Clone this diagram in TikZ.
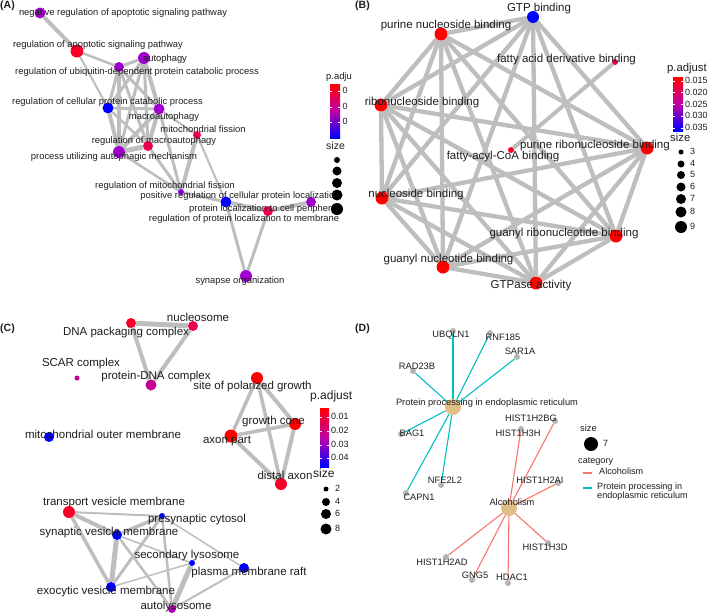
\documentclass[tikz,border=0pt]{standalone}
\usepackage{fontspec}
\setmainfont{Liberation Sans}
\usetikzlibrary{backgrounds}
\definecolor{egray}{RGB}{190,190,190}
\definecolor{txt}{RGB}{30,30,30}
\definecolor{cRed}{RGB}{255,0,0}
\definecolor{cRedA}{RGB}{248,0,40}
\definecolor{cCrim}{RGB}{235,0,75}
\definecolor{cMag}{RGB}{200,0,145}
\definecolor{cPurM}{RGB}{170,0,175}
\definecolor{cPur}{RGB}{160,0,205}
\definecolor{cVio}{RGB}{125,0,230}
\definecolor{cBlue}{RGB}{0,0,255}
\definecolor{cTan}{RGB}{226,190,135}
\definecolor{cGene}{RGB}{180,180,180}
\definecolor{cCyan}{RGB}{0,191,196}
\definecolor{cSalm}{RGB}{248,118,109}
\definecolor{cMid}{RGB}{190,0,165}
\newcommand\mkdot[5]{\node[gn,minimum size=#4pt,fill=#5] (#1) at (#2,#3) {};}
\begin{document}
\begin{tikzpicture}[x=1pt,y=-1pt,
  gn/.style={circle,inner sep=0pt,draw=none},
  lbase/.style={inner sep=0pt,text=txt,text height=0.72em,text depth=0.2em},
  la/.style={lbase,font=\fontsize{9.4}{10}\selectfont},
  lb/.style={lbase,font=\fontsize{11.5}{12}\selectfont},
  ld/.style={lbase,font=\fontsize{9.3}{10}\selectfont},
  ltit/.style={lbase,anchor=west,font=\fontsize{#1}{12}\selectfont},
  lkey/.style={lbase,anchor=west,font=\fontsize{9}{10}\selectfont},
  edg/.style={draw=egray,line width=#1},
  pnl/.style={inner sep=0pt,anchor=west,text=txt,font=\fontsize{10.5}{11}\bfseries\selectfont},
  cbar/.style={top color=cRed,bottom color=cBlue,middle color=cMid,draw=none},
  tick/.style={draw=white,line width=0.6pt},
  keydot/.style={circle,inner sep=0pt,fill=black,draw=none},
  dcyan/.style={draw=cCyan,line width=1.1pt},
  dsalm/.style={draw=cSalm,line width=1.1pt}
]
\begin{pgfonlayer}{background}
\fill[white] (0,0) rectangle (709,614);
\end{pgfonlayer}
\useasboundingbox (0,0) rectangle (709,614);

% ---------------- panel labels
\node[pnl] (pA) at (0,6) {(A)};
\node[pnl] (pB) at (355,6) {(B)};
\node[pnl] (pC) at (0,329) {(C)};
\node[pnl] (pD) at (355,329) {(D)};

% ---------------- Panel A nodes
\mkdot{a1}{40}{13}{11}{cPur}
\mkdot{a2}{77}{51}{13}{cRedA}
\mkdot{a3}{144}{58}{12}{cPur}
\mkdot{a4}{119}{67}{10}{cPur}
\mkdot{a5}{108}{108}{11}{cBlue}
\mkdot{a6}{159}{109}{11}{cPur}
\mkdot{a7}{197}{135}{8}{cCrim}
\mkdot{a8}{148}{146}{10}{cCrim}
\mkdot{a9}{119}{152}{12}{cPur}
\mkdot{a10}{181}{192}{6}{cVio}
\mkdot{a11}{226}{202}{11}{cBlue}
\mkdot{a12}{268}{211}{10}{cCrim}
\mkdot{a13}{311}{202}{10}{cPur}
\mkdot{a14}{246}{276}{12}{cPur}

\begin{pgfonlayer}{background}
\foreach \p/\q/\w in {a1/a2/4,a2/a4/2.5,a2/a5/2,a3/a4/3,a3/a5/3,a3/a6/4,a3/a8/3,a3/a9/3,
  a4/a5/3,a4/a6/3,a4/a8/3,a4/a9/4,a5/a6/3,a5/a8/2.5,a5/a9/4,a6/a8/4,a6/a9/4,a6/a10/3,
  a8/a9/5,a8/a10/3,a9/a10/2.5,a7/a10/4,a6/a7/2,a7/a11/2,a10/a11/3,a11/a12/4,a12/a13/4,
  a11/a14/3,a12/a14/3}
  \draw[edg=\w] (\p) -- (\q);
\end{pgfonlayer}

\node[la] (a1t) at (123,13) {negative regulation of apoptotic signaling pathway};
\node[la] (a2t) at (98,45) {regulation of apoptotic signaling pathway};
\node[la] (a3t) at (165,59) {autophagy};
\node[la] (a4t) at (137,72) {regulation of ubiquitin-dependent protein catabolic process};
\node[la] (a5t) at (107.5,102) {regulation of cellular protein catabolic process};
\node[la] (a6t) at (164,117) {macroautophagy};
\node[la] (a7t) at (203,130) {mitochondrial fission};
\node[la] (a8t) at (154,141) {regulation of macroautophagy};
\node[la] (a9t) at (114,157) {process utilizing autophagic mechanism};
\node[la] (a10t) at (165,186) {regulation of mitochondrial fission};
\node[la] (a11t) at (240,196) {positive regulation of cellular protein localization};
\node[la,anchor=west] (a12t) at (189,209) {protein localization to cell periphery};
\node[la] (a13t) at (244,219) {regulation of protein localization to membrane};
\node[la] (a14t) at (240,281) {synapse organization};

% legend A
\node[ltit=9.4] (aLt) at (326,77) {p.adju};
\shade[cbar] (330,84) rectangle (340,138);
\foreach \y/\n in {91/1,107/2,122/3}{
  \draw[tick] (330,\y) -- (332,\y); \draw[tick] (338,\y) -- (340,\y);
  \node[lkey] (aLk\n) at (342.5,\y) {0};}
\node[ltit=10.5] (aLs) at (326,147) {size};
\foreach \y/\d/\n in {160/6/1,171/9/2,183/10/3,195/11/4,209/12/5}
  \node[keydot,minimum size=\d pt] (aLd\n) at (337,\y) {};

% ---------------- Panel B nodes
\mkdot{gtp}{533}{17}{12}{cBlue}
\mkdot{pnb}{441}{34}{13}{cRed}
\mkdot{fad}{615}{62}{6}{cCrim}
\mkdot{rb}{381}{105}{13}{cRed}
\mkdot{prb}{647}{148}{13}{cRed}
\mkdot{fac}{511}{150}{6}{cRedA}
\mkdot{nb}{382}{198}{13}{cRed}
\mkdot{grb}{616}{236}{13}{cRed}
\mkdot{gnb}{443}{267}{13}{cRed}
\mkdot{ga}{536}{283}{13}{cRed}

\begin{pgfonlayer}{background}
\foreach \p/\q in {gtp/pnb,gtp/rb,gtp/prb,gtp/nb,gtp/grb,gtp/gnb,gtp/ga,
  pnb/rb,pnb/prb,pnb/nb,pnb/grb,pnb/gnb,pnb/ga,
  rb/prb,rb/nb,rb/grb,rb/gnb,rb/ga,
  prb/nb,prb/grb,prb/gnb,prb/ga,
  nb/grb,nb/gnb,nb/ga,
  grb/gnb,grb/ga,gnb/ga}
  \draw[edg=4.3] (\p) -- (\q);
\draw[edg=4] (fad) -- (fac);
\end{pgfonlayer}

\node[lb] (gtpt) at (539,9) {GTP binding};
\node[lb] (pnbt) at (446,26) {purine nucleoside binding};
\node[lb] (fadt) at (566.5,60) {fatty acid derivative binding};
\node[lb] (rbt) at (422,103) {ribonucleoside binding};
\node[lb] (prbt) at (595,146) {purine ribonucleoside binding};
\node[lb] (fact) at (503,157) {fatty-acyl-CoA binding};
\node[lb] (nbt) at (416,195) {nucleoside binding};
\node[lb] (grbt) at (564,234) {guanyl ribonucleotide binding};
\node[lb] (gnbt) at (448.5,260) {guanyl nucleotide binding};
\node[lb] (gat) at (531,286) {GTPase activity};

% legend B
\node[ltit=11.3] (bLt) at (667,69) {p.adjust};
\shade[cbar] (673,77) rectangle (683,131);
\foreach \y/\v in {81/0.015,92.7/0.020,104.4/0.025,116/0.030,127.8/0.035}{
  \draw[tick] (673,\y) -- (675,\y); \draw[tick] (681,\y) -- (683,\y);
  \node[lkey] (bLk\v) at (685,\y) {\v};}
\node[ltit=11.3] (bLs) at (670,139) {size};
\foreach \y/\d/\n in {152/5/3,164/7/4,175/8/5,187/9/6,199/10/7,212/11/8,227/12/9}{
  \node[keydot,minimum size=\d pt] (bLd\n) at (681,\y) {};
  \node[lkey] (bLl\n) at (690,\y) {\n};}

% ---------------- Panel C nodes
\mkdot{dpc}{131}{323}{10}{cRedA}
\mkdot{nuc}{193}{326}{10}{cCrim}
\mkdot{scar}{77}{378}{5}{cMag}
\mkdot{pdc}{151}{385}{11}{cMag}
\mkdot{spg}{257}{378}{12}{cRed}
\mkdot{gc}{295}{424}{12}{cRed}
\mkdot{ax}{231}{436}{13}{cRed}
\mkdot{mom}{49}{437}{10}{cBlue}
\mkdot{da}{281}{484}{12}{cRedA}
\mkdot{tvm}{69}{512}{12}{cRedA}
\mkdot{pc}{162}{516}{6}{cBlue}
\mkdot{svm}{117}{535}{10}{cBlue}
\mkdot{sl}{192}{563}{6}{cBlue}
\mkdot{pmr}{244}{568}{10}{cBlue}
\mkdot{evm}{111}{587}{10}{cBlue}
\mkdot{aut}{172}{609}{8}{cPurM}

\begin{pgfonlayer}{background}
\foreach \p/\q/\w in {dpc/nuc/5,dpc/pdc/4,nuc/pdc/4,
  spg/ax/3.5,spg/gc/4,spg/da/3.5,gc/ax/3.5,gc/da/4,ax/da/4,
  tvm/pc/2,tvm/svm/4,tvm/evm/3.5,pc/svm/3.5,pc/evm/3,pc/aut/2.5,pc/pmr/1.5,
  svm/evm/5,svm/aut/2.5,svm/sl/1.5,evm/sl/1.5,sl/aut/5,pmr/aut/2}
  \draw[edg=\w] (\p) -- (\q);
\end{pgfonlayer}

\node[lb] (dpct) at (126,333) {DNA packaging complex};
\node[lb] (nuct) at (198,319) {nucleosome};
\node[lb] (scart) at (81,364) {SCAR complex};
\node[lb] (pdct) at (156,377) {protein-DNA complex};
\node[lb] (spgt) at (252.5,387) {site of polarized growth};
\node[lb] (gct) at (273.5,422) {growth cone};
\node[lb] (axt) at (227,441) {axon part};
\node[lb] (momt) at (103,436) {mitochondrial outer membrane};
\node[lb] (dat) at (285,477) {distal axon};
\node[lb] (tvmt) at (114,503) {transport vesicle membrane};
\node[lb] (pct) at (197,520) {presynaptic cytosol};
\node[lb] (svmt) at (109,533) {synaptic vesicle membrane};
\node[lb] (slt) at (187,556) {secondary lysosome};
\node[lb] (pmrt) at (249,573) {plasma membrane raft};
\node[lb] (evmt) at (106,592) {exocytic vesicle membrane};
\node[lb] (autt) at (176,607) {autolysosome};

% legend C
\node[ltit=12] (cLt) at (310,397) {p.adjust};
\shade[cbar] (320,408) rectangle (329,467);
\foreach \y/\v in {417/0.01,431/0.02,445/0.03,458/0.04}{
  \draw[tick] (320,\y) -- (322,\y); \draw[tick] (327,\y) -- (329,\y);
  \node[lkey] (cLk\v) at (331,\y) {\v};}
\node[ltit=12] (cLs) at (313,475) {size};
\foreach \y/\d/\n in {489/5/2,502/8/4,514/10/6,529/11/8}{
  \node[keydot,minimum size=\d pt] (cLd\n) at (326,\y) {};
  \node[lkey] (cLl\n) at (335,\y) {\n};}

% ---------------- Panel D nodes
\mkdot{pper}{453}{407}{16}{cTan}
\mkdot{alc}{509}{508}{16}{cTan}
\foreach \n/\x/\y in {ubq/453/331,rnf/490/333,sar/517/357,rad/413/371,bag/401/434,
  nfe/441/485,capn/406/493,h2bg/555/421,h3h/521/429,h2ai/558/483,h3d/548/543,
  h2ad/446/557,gng/472/580,hdac/508/583}
  \node[gn,minimum size=6pt,fill=cGene] (\n) at (\x,\y) {};

\begin{pgfonlayer}{background}
\foreach \q in {ubq,rnf,sar,rad,bag,nfe,capn}
  \draw[dcyan] (pper) -- (\q);
\foreach \q in {h2bg,h3h,h2ai,h3d,h2ad,gng,hdac}
  \draw[dsalm] (alc) -- (\q);
\end{pgfonlayer}

\node[ld] (ppert) at (487,403) {Protein processing in endoplasmic reticulum};
\node[ld] (ubqt) at (451,335) {UBQLN1};
\node[ld] (rnft) at (503,338) {RNF185};
\node[ld] (sart) at (520,352) {SAR1A};
\node[ld] (radt) at (417,367) {RAD23B};
\node[ld] (bagt) at (412,434) {BAG1};
\node[ld] (nfet) at (445,481) {NFE2L2};
\node[ld] (capnt) at (419,498) {CAPN1};
\node[ld] (alct) at (512,503) {Alcoholism};
\node[ld] (h2bgt) at (531,419) {HIST1H2BG};
\node[ld] (h3ht) at (518,434) {HIST1H3H};
\node[ld] (h2ait) at (540,481) {HIST1H2AI};
\node[ld] (h3dt) at (545,548) {HIST1H3D};
\node[ld] (h2adt) at (442,563) {HIST1H2AD};
\node[ld] (gngt) at (475,576) {GNG5};
\node[ld] (hdact) at (512,578) {HDAC1};

% legend D
\node[ld] (dLs) at (588.5,429) {size};
\node[keydot,minimum size=14pt] (dLd) at (591,444) {};
\node[lkey] (dL7) at (603,444) {7};
\node[ltit=9.1] (dLc) at (578,461) {category};
\coordinate (k1a) at (583,473); \coordinate (k1b) at (592,473);
\coordinate (k2a) at (583,488); \coordinate (k2b) at (592,488);
\draw[dsalm] (k1a) -- (k1b);
\draw[dcyan] (k2a) -- (k2b);
\node[ltit=9.1] (dLa) at (599,472) {Alcoholism};
\node[ltit=9.1] (dLp1) at (597,487) {Protein processing in};
\node[ltit=9.1] (dLp2) at (597,496) {endoplasmic reticulum};
\end{tikzpicture}
\end{document}
